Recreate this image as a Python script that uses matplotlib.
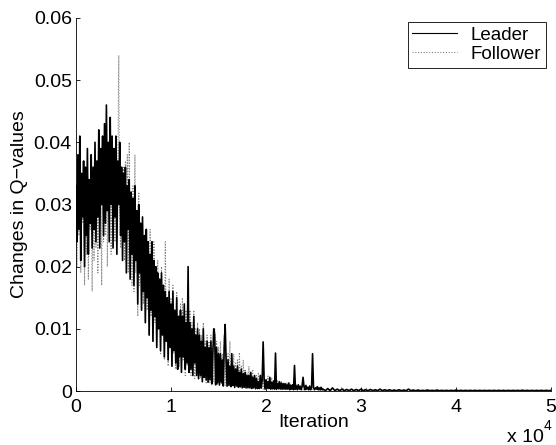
import numpy as np
import matplotlib
matplotlib.use("Agg")
import matplotlib.pyplot as plt

plt.rcParams['font.family'] = ['Liberation Sans', 'DejaVu Sans']

# Iterations (dense early part, sparse tail)
iter_dense = list(range(0, 26000, 100))
iter_tail = list(range(26000, 50001, 250))

# Leader changes in Q-values (units of 1e-3)
leader_dense = [
    33, 24, 38, 26, 41, 21, 35, 28, 37, 20,
    36, 25, 39, 22, 34, 27, 38, 23, 36, 26,
    40, 24, 37, 28, 42, 23, 39, 30, 41, 25,
    43, 27, 46, 29, 40, 24, 44, 30, 41, 23,
    39, 28, 41, 22, 37, 30, 40, 25, 36, 21,
    35, 24, 36, 19, 33, 26, 34, 18, 32, 22,
    31, 17, 33, 21, 29, 14, 30, 19, 27, 13,
    28, 16, 25, 11, 26, 15, 24, 9, 22, 13,
    24, 8, 21, 12, 20, 7, 19, 10, 18, 6.5,
    19, 9, 17, 5.5, 16, 8, 15, 5, 16, 7,
    14, 4, 16, 6.5, 13, 4.5, 15, 3.5, 12, 5.5,
    13, 3, 12, 5.5, 14, 3.5, 11, 4.5, 20, 3,
    11, 3.5, 10, 2.5, 12, 4.5, 9, 2.5, 10, 2,
    9, 2.5, 8, 1.5, 10, 2.2, 7, 1.8, 8, 1.4,
    7, 1.8, 8, 1.2, 6, 10, 9, 1, 7, 1.3,
    6, 1, 6, 1.4, 5, 0.8, 7, 10.7, 5, 0.8,
    5, 0.9, 4, 0.7, 6, 0.9, 4, 0.6, 3.5, 0.8,
    4, 0.6, 3, 0.7, 3.5, 0.5, 2.8, 0.6, 3, 0.5,
    2.5, 0.5, 2.5, 0.5, 3, 0.4, 2.2, 0.5, 2.5, 0.4,
    2, 0.4, 1.5, 0.4, 2.5, 0.5, 1.8, 7.9, 2, 0.3,
    1.8, 0.4, 1.5, 0.4, 2.2, 0.3, 1.4, 0.4, 1.6, 0.3,
    6.1, 0.3, 1.2, 0.4, 1.5, 0.3, 1.3, 0.3, 1.2, 0.3,
    1.2, 0.3, 1, 0.3, 1.3, 0.2, 0.9, 0.3, 1.0, 0.2,
    4.1, 0.3, 0.8, 0.2, 1, 0.3, 0.7, 0.2, 0.8, 2.2,
    0.7, 0.2, 0.9, 0.3, 0.6, 0.2, 0.8, 0.2, 0.6, 6.0,
    0.6, 0.2, 0.5, 0.3, 0.7, 0.2, 0.5, 0.2, 0.6, 0.2,
]
leader_tail = [
    0.3, 0.05, 0.4, 0.05, 0.5, 0.05, 0.3, 0.05, 0.3, 0.05,
    0.25, 0.05, 0.3, 0.05, 0.25, 0.05, 0.3, 0.05, 0.2, 0.05,
    0.25, 0.05, 0.2, 0.05, 0.3, 0.05, 0.2, 0.05, 0.2, 0.05,
    0.15, 0.05, 0.2, 0.05, 0.15, 0.05, 0.3, 0.05, 0.15, 0.05,
    0.15, 0.05, 0.1, 0.05, 0.15, 0.05, 0.1, 0.05, 0.15, 0.05,
    0.1, 0.05, 0.1, 0.05, 0.1, 0.05, 0.15, 0.05, 0.1, 0.05,
    0.1, 0.05, 0.1, 0.05, 0.1, 0.05, 0.1, 0.05, 0.1, 0.05,
    0.1, 0.05, 0.1, 0.05, 0.1, 0.05, 0.1, 0.05, 0.1, 0.05,
    0.1, 0.05, 0.1, 0.05, 0.1, 0.05, 0.1, 0.05, 0.1, 0.05,
    0.1, 0.05, 0.1, 0.05, 0.1, 0.05, 0.1,
]

# Follower changes in Q-values (units of 1e-3)
follower_dense = [
    30, 20, 34, 25, 38, 19, 32, 27, 35, 17,
    33, 22, 36, 18, 31, 26, 35, 16, 34, 21,
    37, 23, 35, 19, 39, 26, 36, 17, 38, 24,
    40, 25, 42, 20, 38, 28, 41, 22, 39, 27,
    37, 24, 38, 26, 35, 54, 29, 23, 34, 25,
    36, 21, 37, 24, 38, 19, 40, 22, 31, 17,
    33, 16, 38, 19, 28, 12, 32, 17, 26, 13,
    27, 14, 24, 11, 25, 13, 23, 9, 26, 12,
    22, 8, 24, 11, 19, 7, 21, 10, 17, 6,
    20, 9, 16, 5, 24, 8, 14, 4, 18, 7,
    15, 4, 17, 6, 13, 3.5, 16, 5, 12, 4,
    14, 3, 15, 5, 12, 2.5, 13, 4, 11, 3,
    13, 2.5, 11, 3, 13, 2, 10, 2.5, 11, 1.8,
    10, 2, 9, 1.5, 11, 2, 8, 1.3, 9, 1.5,
    8, 1.2, 9, 1, 7, 1.5, 10, 0.9, 8, 1,
    7, 0.9, 8, 1.2, 6, 0.8, 9, 0.9, 6, 0.7,
    6, 0.8, 8, 0.6, 5, 0.9, 6, 0.5, 4.5, 0.7,
    5, 0.6, 6.2, 0.5, 4, 0.7, 5, 0.4, 3.5, 0.5,
    3, 0.5, 4, 0.4, 2.8, 0.5, 3.5, 0.4, 2.5, 0.3,
    2.5, 0.4, 3, 0.3, 2.2, 0.4, 2.8, 0.3, 2, 0.3,
    2, 0.3, 2.4, 0.3, 1.8, 0.3, 2.2, 0.2, 1.6, 0.3,
    1.5, 0.2, 1.8, 0.3, 1.3, 0.2, 1.6, 0.2, 1.2, 0.2,
    1.2, 0.2, 1.4, 0.2, 1, 0.2, 1.2, 0.2, 0.9, 0.2,
    0.9, 0.2, 1, 0.2, 0.8, 0.2, 0.9, 0.2, 0.7, 0.2,
    0.7, 0.2, 0.8, 0.2, 0.6, 0.2, 0.7, 0.2, 0.6, 0.2,
    0.5, 0.2, 0.6, 0.2, 0.5, 0.2, 0.5, 0.1, 0.5, 0.1,
]
follower_tail = [
    0.3, 0.05, 0.3, 0.05, 0.4, 0.05, 0.3, 0.05, 0.6, 0.05,
    0.25, 0.05, 0.2, 0.05, 0.3, 0.05, 0.2, 0.05, 0.5, 0.05,
    0.2, 0.05, 0.2, 0.05, 0.2, 0.05, 0.2, 0.05, 0.2, 0.05,
    0.2, 0.05, 0.15, 0.05, 0.15, 0.05, 0.15, 0.05, 0.15, 0.05,
    0.1, 0.05, 0.1, 0.05, 0.2, 0.05, 0.1, 0.05, 0.1, 0.05,
    0.1, 0.05, 0.1, 0.05, 0.1, 0.05, 0.1, 0.05, 0.1, 0.05,
    0.1, 0.05, 0.1, 0.05, 0.1, 0.05, 0.1, 0.05, 0.1, 0.05,
    0.1, 0.05, 0.1, 0.05, 0.1, 0.05, 0.1, 0.05, 0.1, 0.05,
    0.1, 0.05, 0.1, 0.05, 0.3, 0.05, 0.1, 0.05, 0.1, 0.05,
    0.1, 0.05, 0.1, 0.05, 0.1, 0.05, 0.1,
]

x_ticks = [0, 1, 2, 3, 4, 5]
y_ticks = [0, 0.01, 0.02, 0.03, 0.04, 0.05, 0.06]

iters = np.array(iter_dense + iter_tail) / 1e4
leader = np.array(leader_dense + leader_tail) * 1e-3
follower = np.array(follower_dense + follower_tail) * 1e-3

fig = plt.figure(figsize=(5.56, 4.45), dpi=100)
ax = fig.add_axes([76 / 556, 1 - 391 / 445, 475 / 556, 373 / 445])

hf, = ax.plot(iters, follower, color='0.5', lw=0.8, ls=(0, (1, 1.5)),
              label='Follower', zorder=2)
hl, = ax.plot(iters, leader, color='black', lw=1.2, label='Leader', zorder=3)

ax.set_xlim(0, 5)
ax.set_ylim(0, 0.06)
ax.set_xticks(x_ticks)
ax.set_xticklabels([str(t) for t in x_ticks])
ax.set_yticks(y_ticks)
ax.set_yticklabels(['0', '0.01', '0.02', '0.03', '0.04', '0.05', '0.06'])
ax.tick_params(direction='in', length=3, width=0.6, labelsize=14)
ax.tick_params(axis='x', pad=6)
ax.tick_params(axis='y', pad=3)
for s in ['top', 'right']:
    ax.spines[s].set_visible(False)
for s in ['left', 'bottom']:
    ax.spines[s].set_linewidth(0.6)
    ax.spines[s].set_zorder(4)

ax.set_xlabel('Iteration', fontsize=14, labelpad=-2)
ax.set_ylabel('Changes in Q\u2212values', fontsize=14, labelpad=4)

fig.text(525 / 556, 1 - 437 / 445, 'x 10', fontsize=14, ha='center', va='center')
fig.text(547 / 556, 1 - 426 / 445, '4', fontsize=10, ha='center', va='center')

leg = ax.legend([hl, hf], ['Leader', 'Follower'], loc='upper right',
                bbox_to_anchor=(0.989, 0.989), fancybox=False,
                framealpha=1, edgecolor='black', fontsize=13.5, handlelength=2.4,
                borderpad=0.25, labelspacing=0.1, handletextpad=0.7, borderaxespad=0)
leg.get_frame().set_linewidth(0.6)
leg.set_zorder(5)
for h in leg.get_lines():
    h.set_linewidth(0.8)

fig.savefig('out.png', dpi=100)
